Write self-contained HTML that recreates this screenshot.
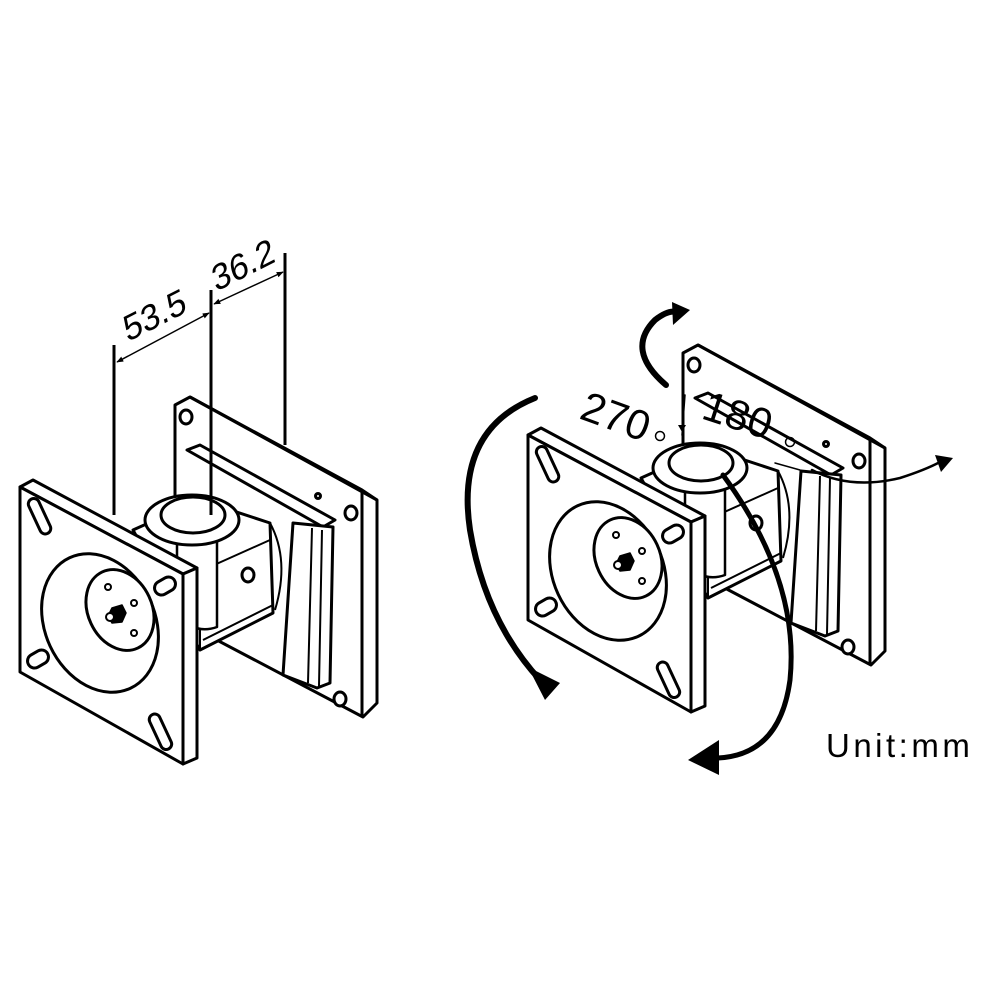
<!DOCTYPE html>
<html><head><meta charset="utf-8"><style>
html,body{margin:0;padding:0;background:#fff;}
svg{display:block;}
text{font-family:"Liberation Sans",sans-serif;fill:#000;}
</style></head><body>
<svg width="1000" height="1000" viewBox="0 0 1000 1000" xmlns="http://www.w3.org/2000/svg">
<defs>
<marker id="ah" viewBox="0 0 10 10" refX="9" refY="5" markerWidth="7" markerHeight="7" orient="auto-start-reverse" markerUnits="userSpaceOnUse">
<path d="M0,1 L10,5 L0,9 z" fill="#000"/>
</marker>
<g id="br" fill="#fff" stroke="#000" stroke-width="3" stroke-linejoin="round">
  <path d="M175,405 L190,397 L377,500 L377,703 L363,717 L175,618 Z"/>
  <path d="M190,397 L362,490 L377,500" fill="none"/>
  <path d="M362,490 L362,715" fill="none"/>
  <ellipse cx="186" cy="417" rx="6" ry="7"/>
  <ellipse cx="351" cy="513" rx="6" ry="7"/>
  <ellipse cx="340" cy="699" rx="6" ry="7"/>
  <circle cx="318" cy="496" r="2.5"/>
  <path d="M187,450 L200,445 L335,520 L323,527 Z"/>
  <path d="M293,523 L333,527 L330,683 L317,688 L283,675 Z"/>
  <path d="M312,528 L308,683 M322,530 L319,686" fill="none" stroke-width="2"/>
  <path d="M133,530 L200,500 L270,523 L273,613 L200,650 Z"/>
  <path d="M200,500 L200,650" fill="none" stroke-width="2"/>
  <path d="M203,570 L270,540 M203,640 L273,605" fill="none" stroke-width="2"/>
  <ellipse cx="248" cy="575" rx="6" ry="7"/>
  <path d="M270,523 Q290,560 275,610" fill="none" stroke-width="2"/>
  <path d="M177,525 L177,615 Q195,635 217,627 L217,525 Z" stroke-width="2.5"/>
  <ellipse cx="192" cy="520" rx="47" ry="25"/>
  <ellipse cx="193" cy="515" rx="32" ry="18"/>
  <path d="M20,487 L33,480 L197,568 L183,574 Z"/>
  <path d="M183,574 L197,568 L197,758 L183,764 Z"/>
  <path d="M20,487 L183,574 L183,764 L20,672 Z"/>
  <rect x="34" y="497" width="11" height="38" rx="5.5" transform="rotate(-25 40 516)"/>
  <rect x="155" y="713" width="11" height="38" rx="5.5" transform="rotate(-25 160 732)"/>
  <rect x="154" y="579" width="22" height="14" rx="7" transform="rotate(-30 165 586)"/>
  <rect x="27" y="652" width="22" height="14" rx="7" transform="rotate(-30 38 659)"/>
  <ellipse cx="100" cy="623" rx="55" ry="72" transform="rotate(-25 100 623)"/>
  <ellipse cx="120" cy="610" rx="32" ry="42" transform="rotate(-25 120 610)"/>
  <circle cx="108" cy="587" r="3" stroke-width="2"/>
  <circle cx="134" cy="603" r="3" stroke-width="2"/>
  <circle cx="134" cy="633" r="3" stroke-width="2"/>
  <path d="M112,608 L122,605 L126,613 L122,622 L112,623 L108,616 Z" fill="#000" stroke-width="1.5"/>
  <circle cx="110" cy="617" r="4" stroke-width="2"/>
</g>
</defs>

<use href="#br"/>
<use href="#br" transform="translate(508,-52)"/>

<g stroke="#000" fill="none">
  <line x1="114" y1="345" x2="114" y2="515" stroke-width="3"/>
  <line x1="211" y1="290" x2="211" y2="515" stroke-width="3"/>
  <line x1="285" y1="253" x2="285" y2="445" stroke-width="3"/>
  <line x1="117" y1="362" x2="209" y2="313" stroke-width="1.5" marker-start="url(#ah)" marker-end="url(#ah)"/>
  <line x1="214" y1="304" x2="283" y2="272" stroke-width="1.5" marker-start="url(#ah)" marker-end="url(#ah)"/>
</g>
<g transform="rotate(-27 128 342)"><text x="128" y="342" font-size="35" transform="skewX(-12) translate(72 0)">53.5</text></g>
<g transform="rotate(-27 216 292)"><text x="216" y="292" font-size="35" transform="skewX(-12) translate(62 0)">36.2</text></g>

<g stroke="#000" fill="none" stroke-linecap="round">
  <path d="M535,398 Q455,430 470,530 Q485,620 540,680" stroke-width="6"/>
  <path d="M666,385 Q625,350 655,320 Q668,310 676,312" stroke-width="6"/>
  <path d="M723,475 Q800,580 790,680 Q780,755 718,758" stroke-width="5"/>
  <path d="M775,463 L800,470" stroke-width="1.5"/>
  <path d="M812,470 Q850,490 900,478 Q925,470 940,462" stroke-width="2.5"/>
  <path d="M685,395 L682,435" stroke-width="1.5"/>
</g>
<path d="M528,667 L560,683 L545,700 Z" fill="#000"/>
<path d="M672,302 L690,310 L673,325 Z" fill="#000"/>
<path d="M719,740 L688,760 L719,775 Z" fill="#000"/>
<path d="M935,455 L953,458 L941,472 Z" fill="#000"/>
<path d="M682,432 L678,425 L686,425 Z" fill="#000"/>

<text x="578" y="418" font-size="42" transform="rotate(20 578 418)">270</text>
<circle cx="660" cy="436" r="4.5" fill="none" stroke="#000" stroke-width="1.5"/>
<text x="700" y="418" font-size="42" transform="rotate(18 700 418)">180</text>
<circle cx="790" cy="442" r="4.5" fill="none" stroke="#000" stroke-width="1.5"/>
<text x="826" y="757" font-size="33" letter-spacing="3.5">Unit:mm</text>
</svg>
</body></html>
